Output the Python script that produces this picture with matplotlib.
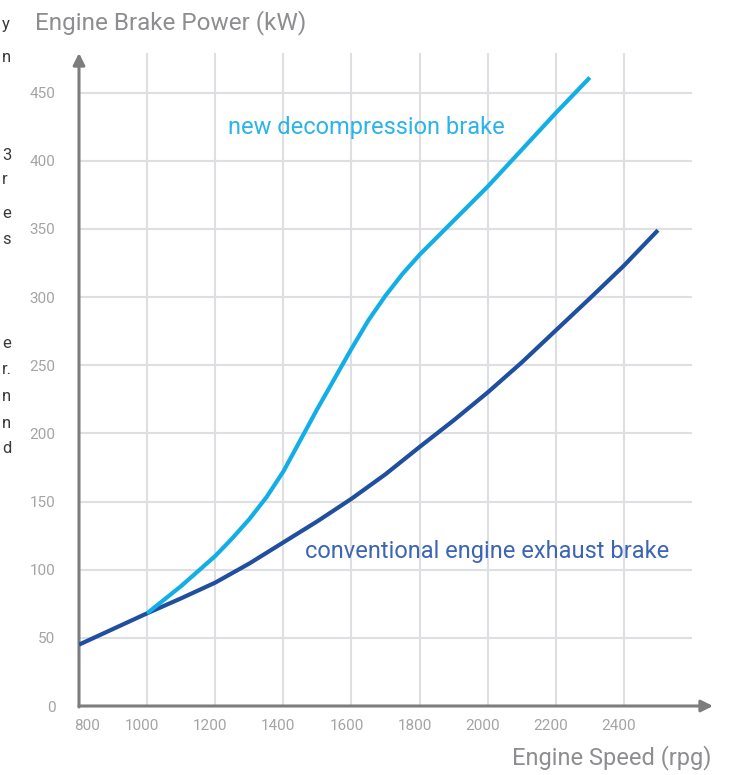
import matplotlib
matplotlib.use("Agg")
import matplotlib.pyplot as plt
from matplotlib.transforms import ScaledTranslation

plt.rcParams['font.family'] = ['Roboto', 'DejaVu Sans']

# ---- data ----
conv_speed = [800, 900, 1000, 1100, 1200, 1300, 1400, 1500, 1600, 1700, 1800,
              1900, 2000, 2100, 2200, 2300, 2400, 2500]
conv_power = [45, 56.5, 68, 79, 90.5, 104.5, 120, 135.5, 152, 170, 190,
              209.5, 230, 252, 275.5, 299, 323, 349]

new_speed = [1000, 1050, 1100, 1150, 1200, 1250, 1300, 1350, 1400, 1450, 1500,
             1550, 1600, 1650, 1700, 1750, 1800, 1850, 1900, 2000, 2100, 2200, 2300]
new_power = [68, 78, 88, 99, 110, 123, 137, 153, 172, 195, 218,
             240, 262, 283, 301, 317, 331, 343.5, 356, 381, 408, 435, 461]

x_ticks = [800, 1000, 1200, 1400, 1600, 1800, 2000, 2200, 2400]
y_ticks = [0, 50, 100, 150, 200, 250, 300, 350, 400, 450]

title_text = "Engine Brake Power (kW)"
xlabel_text = "Engine Speed (rpg)"
new_label = "new decompression brake"
conv_label = "conventional engine exhaust brake"

side_chars = [("y", 25), ("n", 57), ("3", 155), ("r", 180), ("e", 213), ("s", 240),
              ("e", 343), ("r.", 370), ("n", 397), ("n", 423), ("d", 448)]

# ---- figure ----
W, H = 738, 775
fig = plt.figure(figsize=(W / 100, H / 100), dpi=100)
ax = fig.add_axes([79 / W, 1 - 706 / H, (692 - 79) / W, (706 - 53) / H])

ax.set_xlim(800, 2600)
ax.set_ylim(0, 479)

grid_c = '#dedfe3'
for x in x_ticks[1:]:
    ax.axvline(x, color=grid_c, lw=1.5, zorder=0)
for y in y_ticks[1:]:
    ax.axhline(y, color=grid_c, lw=1.5, zorder=0)

for s in ax.spines.values():
    s.set_visible(False)

axis_c = '#7d7d80'
ax.annotate('', xy=(713 / W, 1 - 706 / H), xytext=(79 / W, 1 - 706 / H),
            xycoords='figure fraction', textcoords='figure fraction',
            arrowprops=dict(arrowstyle='-|>,head_length=0.7,head_width=0.35',
                            color=axis_c, lw=2.2, shrinkA=0, shrinkB=0))
ax.annotate('', xy=(79 / W, 1 - 53 / H), xytext=(79 / W, 1 - 707 / H),
            xycoords='figure fraction', textcoords='figure fraction',
            arrowprops=dict(arrowstyle='-|>,head_length=0.7,head_width=0.35',
                            color=axis_c, lw=2.2, shrinkA=0, shrinkB=0))

ax.plot(conv_speed, conv_power, color='#1f4f9e', lw=3, solid_capstyle='butt',
        solid_joinstyle='round', zorder=3)
ax.plot(new_speed, new_power, color='#12aee6', lw=3, solid_capstyle='butt',
        solid_joinstyle='round', zorder=4)

tick_c = '#a4a4a7'
ax.set_xticks(x_ticks)
ax.set_yticks(y_ticks)
ax.set_xticklabels([str(v) for v in x_ticks])
ax.set_yticklabels([str(v) for v in y_ticks])
ax.tick_params(axis='both', length=0, labelsize=11, colors=tick_c)
ax.tick_params(axis='x', pad=9)
ax.tick_params(axis='y', pad=17)
for i, lab in enumerate(ax.get_xticklabels()):
    dx = 8 if i == 0 else -5
    lab.set_transform(lab.get_transform() + ScaledTranslation(dx / 100, 0, fig.dpi_scale_trans))

ax.text(1238, 424, new_label, color='#2ab4e9', fontsize=17, ha='left', va='center')
ax.text(1465, 113, conv_label, color='#3d65b3', fontsize=17, ha='left', va='center')

fig.text(35 / W, 1 - 23 / H, title_text, color='#8e8e91', fontsize=17.5, ha='left', va='center')
fig.text(712 / W, 1 - 758 / H, xlabel_text, color='#8e8e91', fontsize=17, ha='right', va='center')

for ch, yy in side_chars:
    fig.text(2 / W, 1 - yy / H, ch, color='#3a3a3a', fontsize=12, ha='left', va='center')

fig.savefig('out.png', dpi=100, facecolor='white')
